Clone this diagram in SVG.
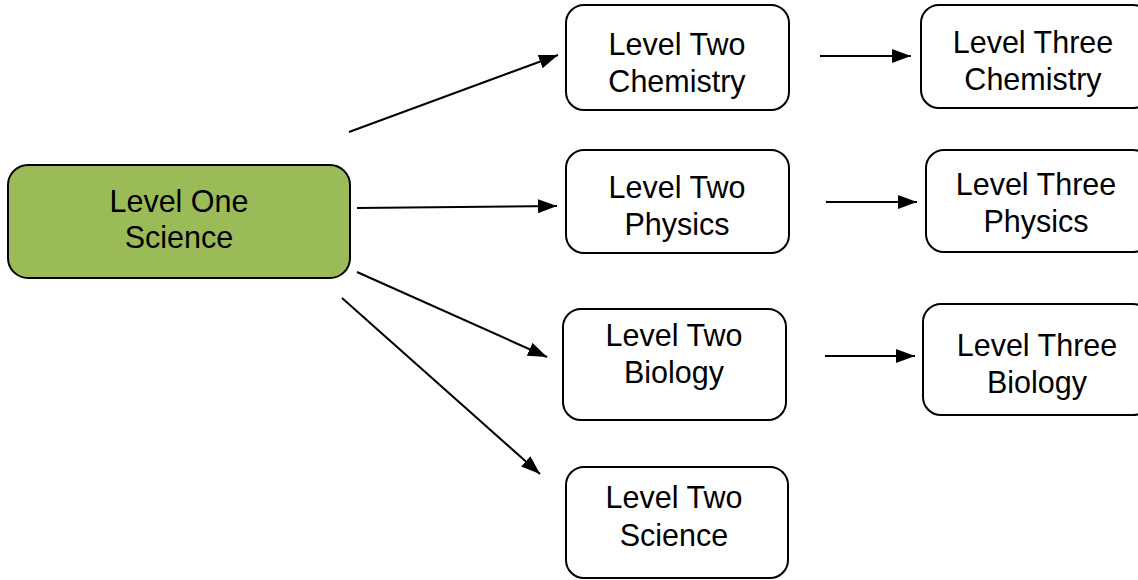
<svg xmlns="http://www.w3.org/2000/svg" width="1138" height="580" viewBox="0 0 1138 580">
<style>
.box{fill:#ffffff;stroke:#000000;stroke-width:2}
.green{fill:#9BBB59;stroke:#000000;stroke-width:2}
.t{font-family:"Liberation Sans",Arial,sans-serif;font-size:30.5px;fill:#000000;text-anchor:middle}
.c{stroke:#000000;stroke-width:2;fill:none;marker-end:url(#ah)}
</style>
<defs>
<marker id="ah" markerUnits="userSpaceOnUse" markerWidth="22" markerHeight="16" refX="19" refY="7" orient="auto">
<path d="M0,0 L19,7 L0,14 z" fill="#000000"/>
</marker>
</defs>
<rect width="1138" height="580" fill="#ffffff"/>
<g id="connectors">
<line class="c" x1="349" y1="132" x2="558" y2="55"/>
<line class="c" x1="357" y1="208" x2="557" y2="206"/>
<line class="c" x1="357" y1="272" x2="547" y2="357"/>
<line class="c" x1="342" y1="298" x2="540" y2="474"/>
<line class="c" x1="820" y1="56" x2="911" y2="56"/>
<line class="c" x1="826" y1="202" x2="917" y2="202"/>
<line class="c" x1="825" y1="356" x2="915" y2="356"/>
</g>
<g id="level-one-science">
<rect class="green" x="8" y="165" width="342" height="113" rx="20"/>
<text class="t" x="179" y="212">Level One</text>
<text class="t" x="179" y="248">Science</text>
</g>
<g id="level-two-chemistry">
<rect class="box" x="566" y="5" width="223" height="105" rx="18"/>
<text class="t" x="677" y="55">Level Two</text>
<text class="t" x="677" y="92">Chemistry</text>
</g>
<g id="level-three-chemistry">
<rect class="box" x="921" y="5" width="230" height="103" rx="18"/>
<text class="t" x="1033" y="53">Level Three</text>
<text class="t" x="1033" y="90">Chemistry</text>
</g>
<g id="level-two-physics">
<rect class="box" x="566" y="150" width="223" height="103" rx="18"/>
<text class="t" x="677" y="198">Level Two</text>
<text class="t" x="677" y="235">Physics</text>
</g>
<g id="level-three-physics">
<rect class="box" x="926" y="150" width="225" height="102" rx="18"/>
<text class="t" x="1036" y="195">Level Three</text>
<text class="t" x="1036" y="232">Physics</text>
</g>
<g id="level-two-biology">
<rect class="box" x="563" y="309" width="223" height="111" rx="18"/>
<text class="t" x="674" y="346">Level Two</text>
<text class="t" x="674" y="383">Biology</text>
</g>
<g id="level-three-biology">
<rect class="box" x="923" y="304" width="228" height="111" rx="18"/>
<text class="t" x="1037" y="356">Level Three</text>
<text class="t" x="1037" y="393">Biology</text>
</g>
<g id="level-two-science">
<rect class="box" x="566" y="467" width="222" height="111" rx="18"/>
<text class="t" x="674" y="508">Level Two</text>
<text class="t" x="674" y="546">Science</text>
</g>
</svg>
